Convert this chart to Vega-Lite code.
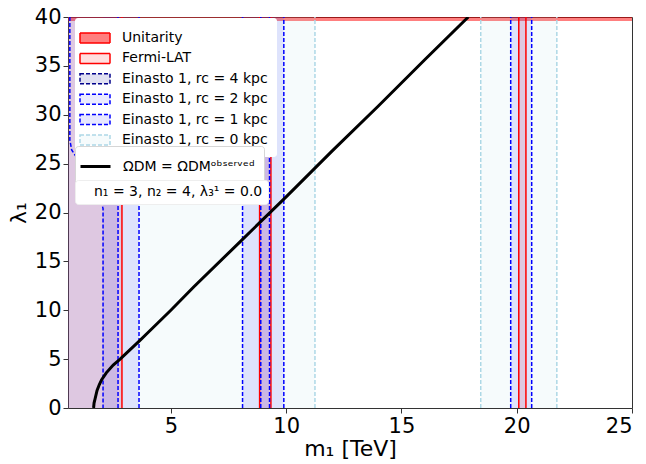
{
  "$schema": "https://vega.github.io/schema/vega-lite/v6.json",
  "width": 564,
  "height": 391,
  "autosize": "none",
  "padding": {"left": 68, "top": 17, "right": 14, "bottom": 56},
  "config": {
    "font": "DejaVu Sans",
    "view": {"stroke": "#333", "strokeWidth": 1},
    "axis": {"grid": false, "domain": false, "tickColor": "#333", "tickSize": 5, "labelFontSize": 21, "titleFontSize": 22, "labelColor": "black", "titleColor": "black", "titleFontWeight": "normal", "labelPadding": 2},
    "legend": {"orient": "none", "legendX": 7, "fillColor": "white", "cornerRadius": 3, "labelFontSize": 14, "labelColor": "black", "labelLimit": 300, "title": null}
  },
  "datasets": {
    "regions": [
      {"key": "Unitarity", "x0": 0, "x1": 26, "y0": 39.6, "y1": 40},
      {"key": "Fermi-LAT", "x0": 0, "x1": 2.88, "y0": 0, "y1": 40},
      {"key": "Fermi-LAT", "x0": 8.85, "x1": 9.34, "y0": 0, "y1": 40},
      {"key": "Fermi-LAT", "x0": 20.09, "x1": 20.4, "y0": 0, "y1": 40},
      {"key": "Einasto 1, rc = 0 kpc", "x0": 0, "x1": 11.25, "y0": 0, "y1": 40},
      {"key": "Einasto 1, rc = 0 kpc", "x0": 18.44, "x1": 21.74, "y0": 0, "y1": 40},
      {"key": "Einasto 1, rc = 1 kpc", "x0": 0, "x1": 3.62, "y0": 0, "y1": 40},
      {"key": "Einasto 1, rc = 1 kpc", "x0": 8.11, "x1": 9.9, "y0": 0, "y1": 40},
      {"key": "Einasto 1, rc = 1 kpc", "x0": 19.74, "x1": 20.65, "y0": 0, "y1": 40},
      {"key": "Einasto 1, rc = 2 kpc", "x0": 2.06, "x1": 2.71, "y0": 0, "y1": 40},
      {"key": "Einasto 1, rc = 2 kpc", "x0": 8.9, "x1": 9.28, "y0": 0, "y1": 40}
    ],
    "edges": [
      {"key": "Fermi-LAT", "x": 2.88, "y0": 0, "y1": 40},
      {"key": "Fermi-LAT", "x": 8.85, "y0": 0, "y1": 40},
      {"key": "Fermi-LAT", "x": 9.34, "y0": 0, "y1": 40},
      {"key": "Fermi-LAT", "x": 20.09, "y0": 0, "y1": 40},
      {"key": "Fermi-LAT", "x": 20.4, "y0": 0, "y1": 40},
      {"key": "Einasto 1, rc = 0 kpc", "x": 11.25, "y0": 0, "y1": 40},
      {"key": "Einasto 1, rc = 0 kpc", "x": 18.44, "y0": 0, "y1": 40},
      {"key": "Einasto 1, rc = 0 kpc", "x": 21.74, "y0": 0, "y1": 40},
      {"key": "Einasto 1, rc = 1 kpc", "x": 3.62, "y0": 0, "y1": 40},
      {"key": "Einasto 1, rc = 1 kpc", "x": 8.11, "y0": 0, "y1": 40},
      {"key": "Einasto 1, rc = 1 kpc", "x": 9.9, "y0": 0, "y1": 40},
      {"key": "Einasto 1, rc = 1 kpc", "x": 19.74, "y0": 0, "y1": 40},
      {"key": "Einasto 1, rc = 1 kpc", "x": 20.65, "y0": 0, "y1": 40},
      {"key": "Einasto 1, rc = 2 kpc", "x": 2.71, "y0": 0, "y1": 40},
      {"key": "Einasto 1, rc = 2 kpc", "x": 8.9, "y0": 0, "y1": 40},
      {"key": "Einasto 1, rc = 2 kpc", "x": 9.28, "y0": 0, "y1": 40}
    ],
    "contour": [
      {"key": "Einasto 1, rc = 2 kpc", "i": 0, "x": 0.62, "y": 40},
      {"key": "Einasto 1, rc = 2 kpc", "i": 1, "x": 0.62, "y": 27.4},
      {"key": "Einasto 1, rc = 2 kpc", "i": 2, "x": 0.7, "y": 26.4},
      {"key": "Einasto 1, rc = 2 kpc", "i": 3, "x": 0.92, "y": 25.6},
      {"key": "Einasto 1, rc = 2 kpc", "i": 4, "x": 1.5, "y": 23.4},
      {"key": "Einasto 1, rc = 2 kpc", "i": 5, "x": 1.95, "y": 21.4},
      {"key": "Einasto 1, rc = 2 kpc", "i": 6, "x": 2.06, "y": 20.4},
      {"key": "Einasto 1, rc = 2 kpc", "i": 7, "x": 2.06, "y": 0}
    ],
    "relic": [
      {"key": "ΩDM = ΩDMᵒᵇˢᵉʳᵛᵉᵈ", "x": 1.65, "y": 0},
      {"key": "ΩDM = ΩDMᵒᵇˢᵉʳᵛᵉᵈ", "x": 1.67, "y": 0.5},
      {"key": "ΩDM = ΩDMᵒᵇˢᵉʳᵛᵉᵈ", "x": 1.72, "y": 1.0},
      {"key": "ΩDM = ΩDMᵒᵇˢᵉʳᵛᵉᵈ", "x": 1.8, "y": 1.8},
      {"key": "ΩDM = ΩDMᵒᵇˢᵉʳᵛᵉᵈ", "x": 1.9, "y": 2.4},
      {"key": "ΩDM = ΩDMᵒᵇˢᵉʳᵛᵉᵈ", "x": 2.0, "y": 2.9},
      {"key": "ΩDM = ΩDMᵒᵇˢᵉʳᵛᵉᵈ", "x": 2.2, "y": 3.6},
      {"key": "ΩDM = ΩDMᵒᵇˢᵉʳᵛᵉᵈ", "x": 2.5, "y": 4.4},
      {"key": "ΩDM = ΩDMᵒᵇˢᵉʳᵛᵉᵈ", "x": 2.8, "y": 5.0},
      {"key": "ΩDM = ΩDMᵒᵇˢᵉʳᵛᵉᵈ", "x": 3.2, "y": 5.9},
      {"key": "ΩDM = ΩDMᵒᵇˢᵉʳᵛᵉᵈ", "x": 3.65, "y": 6.9},
      {"key": "ΩDM = ΩDMᵒᵇˢᵉʳᵛᵉᵈ", "x": 4.0, "y": 7.7},
      {"key": "ΩDM = ΩDMᵒᵇˢᵉʳᵛᵉᵈ", "x": 5.0, "y": 10.0},
      {"key": "ΩDM = ΩDMᵒᵇˢᵉʳᵛᵉᵈ", "x": 6.0, "y": 12.4},
      {"key": "ΩDM = ΩDMᵒᵇˢᵉʳᵛᵉᵈ", "x": 8.0, "y": 17.0},
      {"key": "ΩDM = ΩDMᵒᵇˢᵉʳᵛᵉᵈ", "x": 10.0, "y": 21.6},
      {"key": "ΩDM = ΩDMᵒᵇˢᵉʳᵛᵉᵈ", "x": 12.0, "y": 26.3},
      {"key": "ΩDM = ΩDMᵒᵇˢᵉʳᵛᵉᵈ", "x": 14.0, "y": 30.9},
      {"key": "ΩDM = ΩDMᵒᵇˢᵉʳᵛᵉᵈ", "x": 16.0, "y": 35.6},
      {"key": "ΩDM = ΩDMᵒᵇˢᵉʳᵛᵉᵈ", "x": 17.9, "y": 40}
    ],
    "notes": [
      {"note": "n₁ = 3, n₂ = 4, λ₃¹ = 0.0"}
    ]
  },
  "layer": [
    {
      "data": {"name": "regions"},
      "mark": {"type": "rect", "clip": true},
      "encoding": {
        "x": {"field": "x0", "type": "quantitative", "scale": {"domain": [0.54, 25], "nice": false, "zero": false}, "axis": {"values": [5, 10, 15, 20, 25], "title": "m₁ [TeV]", "titlePadding": 2}},
        "x2": {"field": "x1"},
        "y": {"field": "y0", "type": "quantitative", "scale": {"domain": [0, 40], "nice": false}, "axis": {"values": [0, 5, 10, 15, 20, 25, 30, 35, 40], "title": "λ₁", "titlePadding": 4}},
        "y2": {"field": "y1"},
        "fill": {
          "field": "key", "type": "nominal",
          "scale": {
            "domain": ["Unitarity", "Fermi-LAT", "Einasto 1, rc = 4 kpc", "Einasto 1, rc = 2 kpc", "Einasto 1, rc = 1 kpc", "Einasto 1, rc = 0 kpc"],
            "range": ["rgba(255,0,0,0.5)", "rgba(255,0,0,0.13)", "rgba(0,0,139,0.12)", "rgba(0,0,255,0.08)", "rgba(0,0,255,0.095)", "rgba(173,216,230,0.11)"]
          },
          "legend": {"title": null, "legendX": 7, "legendY": 1, "padding": 9, "symbolType": "M-1.5,-0.5H1.5V0.5H-1.5Z", "symbolSize": 400, "labelOffset": 16, "rowPadding": 1.4, "symbolStrokeWidth": 1.5, "strokeColor": null}
        }
      }
    },
    {
      "data": {"name": "edges"},
      "mark": {"type": "rule", "strokeWidth": 1.5, "clip": true},
      "encoding": {
        "x": {"field": "x", "type": "quantitative"},
        "y": {"field": "y0", "type": "quantitative"},
        "y2": {"field": "y1"},
        "stroke": {
          "field": "key", "type": "nominal",
          "scale": {
            "domain": ["Unitarity", "Fermi-LAT", "Einasto 1, rc = 4 kpc", "Einasto 1, rc = 2 kpc", "Einasto 1, rc = 1 kpc", "Einasto 1, rc = 0 kpc"],
            "range": ["red", "red", "#00008b", "blue", "blue", "lightblue"]
          },
          "legend": {"title": null}
        },
        "strokeDash": {
          "field": "key", "type": "nominal",
          "scale": {
            "domain": ["Unitarity", "Fermi-LAT", "Einasto 1, rc = 4 kpc", "Einasto 1, rc = 2 kpc", "Einasto 1, rc = 1 kpc", "Einasto 1, rc = 0 kpc"],
            "range": [[1, 0], [1, 0], [4, 2], [4, 2], [4, 2], [4, 2]]
          },
          "legend": {"title": null}
        }
      }
    },
    {
      "data": {"name": "contour"},
      "mark": {"type": "line", "strokeWidth": 1.5, "clip": true},
      "encoding": {
        "x": {"field": "x", "type": "quantitative"},
        "y": {"field": "y", "type": "quantitative"},
        "order": {"field": "i", "type": "quantitative"},
        "stroke": {"field": "key", "type": "nominal"},
        "strokeDash": {"field": "key", "type": "nominal"}
      }
    },
    {
      "data": {"name": "relic"},
      "mark": {"type": "line", "strokeWidth": 3, "clip": true},
      "encoding": {
        "x": {"field": "x", "type": "quantitative"},
        "y": {"field": "y", "type": "quantitative"},
        "color": {
          "field": "key", "type": "nominal",
          "scale": {"range": ["black"]},
          "legend": {"title": null, "legendX": 7, "legendY": 129, "padding": 9, "symbolType": "M-1.5,0H1.5", "symbolSize": 400, "symbolStrokeWidth": 3, "labelOffset": 16, "strokeColor": "#d6d6d6"}
        }
      }
    },
    {
      "data": {"name": "notes"},
      "mark": {"type": "point", "opacity": 0},
      "encoding": {
        "shape": {
          "field": "note", "type": "nominal",
          "legend": {"title": null, "legendX": 7, "legendY": 163, "padding": 5, "symbolSize": 0, "symbolOpacity": 0, "labelOffset": 0, "strokeColor": "#eeeeee"}
        }
      }
    }
  ]
}
